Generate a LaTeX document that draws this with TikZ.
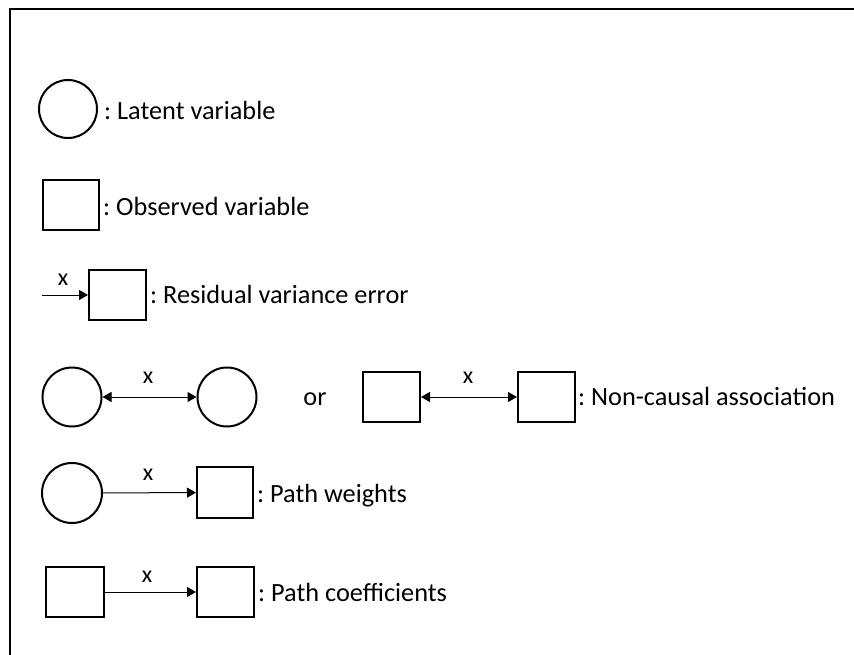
\documentclass[tikz,border=0pt]{standalone}
\usepackage{fontspec}
\setmainfont{Carlito}
\usetikzlibrary{arrows.meta,calc}
\frenchspacing
\tikzset{
  latent/.style={draw, line width=2pt, ellipse-ish},
  ellipse-ish/.style={circle, minimum size=58pt, inner sep=0pt},
  observed/.style={draw, line width=2pt, rectangle, minimum width=56pt, minimum height=50pt, inner sep=0pt},
  link/.style={line width=1pt, -{Triangle[length=9pt,width=10pt]}},
  twoway/.style={line width=1pt, {Triangle[length=9pt,width=10pt]}-{Triangle[length=9pt,width=10pt]}},
  legend/.style={anchor=base west, inner sep=0pt, font=\fontsize{26.3}{30}\selectfont},
  weight/.style={anchor=base, inner sep=0pt, font=\fontsize{24}{28}\selectfont},
}
\begin{document}
\begin{tikzpicture}[x=1pt,y=-1pt]
\useasboundingbox (0,0) rectangle (854,655);
% outer frame (open at right and bottom)
\draw[line width=2pt] (10,655) -- (10,9) -- (854,9);

% latent variable
\node[latent] (lv) at (68,109) {};
\node[legend] (lvt) at (104,120) {: Latent variable};

% observed variable
\node[observed] (ov) at (71,205) {};
\node[legend] (ovt) at (103,216) {: Observed variable};

% residual variance error
\coordinate (rin) at (42,295);
\node[observed, minimum width=57pt] (rv) at (117.5,295) {};
\draw[link] (rin) -- (rv);
\node[weight] (rx) at (63,285) {x};
\node[legend] (rvt) at (150,303) {: Residual variance error};

% non-causal association
\node[latent, minimum size=59pt] (ca) at (72,397) {};
\node[latent, minimum size=59pt] (cb) at (227,397) {};
\draw[twoway] (ca) -- (cb);
\node[weight] (cx) at (148,383) {x};
\node[legend, anchor=base] (or) at (315,405) {or};
\node[observed, minimum width=57pt] (sa) at (391.5,397) {};
\node[observed, minimum width=57pt] (sb) at (546.5,397) {};
\draw[twoway] (sa) -- (sb);
\node[weight] (sx) at (468,383) {x};
\node[legend] (nct) at (578,405) {: Non-causal association};

% path weights
\node[latent, minimum size=60pt] (pw) at (72,493) {};
\node[observed, minimum height=51pt] (po) at (225,492.5) {};
\draw[link] (pw) -- (po);
\node[weight] (px) at (148,480) {x};
\node[legend] (pwt) at (257,502) {: Path weights};

% path coefficients
\node[observed, minimum width=58pt] (pa) at (75,592) {};
\node[observed, minimum width=57pt] (pb) at (225.5,592) {};
\draw[link] (pa) -- (pb);
\node[weight] (pcx) at (147,582) {x};
\node[legend] (pct) at (258,601) {: Path coefficients};
\end{tikzpicture}
\end{document}
